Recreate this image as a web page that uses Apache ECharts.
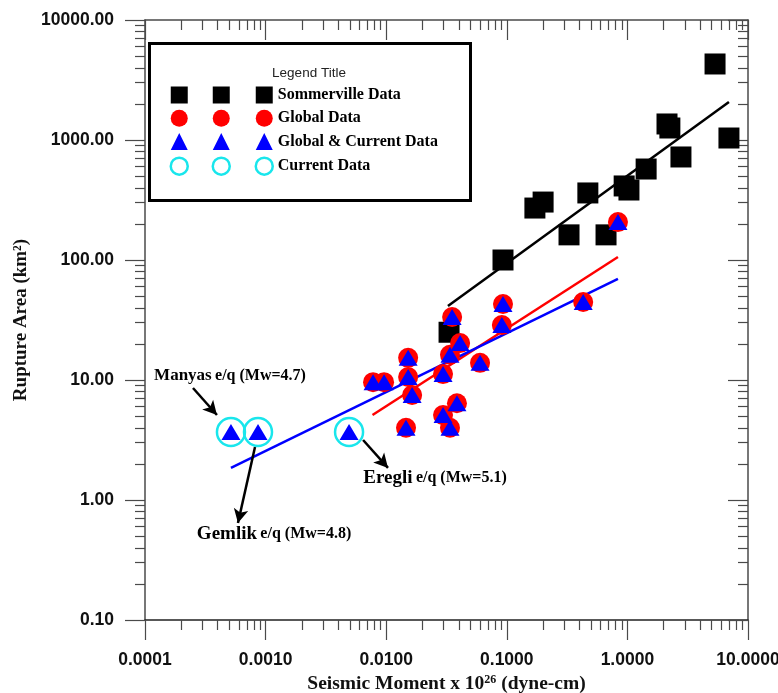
<!DOCTYPE html>
<html><head><meta charset="utf-8">
<script src="https://cdn.jsdelivr.net/npm/echarts@6/dist/echarts.min.js"></script>
<style>html,body{margin:0;padding:0;background:#fff}#c{width:778px;height:693px}</style>
</head><body><div id="c"></div>
<script>
// ---- data ----
const xRange = [0.0001, 10];
const yRange = [0.1, 10000];

const sommervilleX = [5.33, 2.13, 2.25, 6.95, 2.78, 1.43, 0.94, 1.03, 0.47, 0.20, 0.171, 0.328, 0.665, 0.093, 0.0332];
const sommervilleY = [4300, 1360, 1259, 1039, 722, 573, 414, 383, 362, 304, 271, 162, 162, 100, 25];

const globalX = [0.835, 0.093, 0.091, 0.0352, 0.041, 0.0338, 0.0296, 0.060, 0.0152, 0.0152, 0.0164, 0.00778, 0.0096, 0.0386, 0.0296, 0.0338, 0.0146, 0.43];
const globalY = [207, 43, 28.7, 33.5, 20.3, 16.2, 11.2, 13.9, 15.3, 10.6, 7.5, 9.6, 9.6, 6.4, 5.1, 4.0, 4.0, 44.7];

const currentX = [0.000516, 0.000865, 0.00492];
const currentY = [3.69, 3.69, 3.69];

const sommervilleFitX = [0.0325, 6.95];
const sommervilleFitY = [41.4, 2073];
const globalFitX = [0.0077, 0.835];
const globalFitY = [5.11, 106];
const globalCurrentFitX = [0.000516, 0.835];
const globalCurrentFitY = [1.85, 69.5];

const annotNames = ['Manyas', 'Gemlik', 'Eregli'];
const annotMw = ['4.7', '4.8', '5.1'];
const annotX = [0.000507, 0.001175, 0.0254];
const annotY = [10.8, 0.521, 1.525];
const arrowFromX = [0.00025, 0.000817, 0.00643];
const arrowFromY = [8.58, 2.77, 3.16];
const arrowToX = [0.000395, 0.00059, 0.01035];
const arrowToY = [5.11, 0.643, 1.85];

const legendNames = ['Sommerville Data', 'Global Data', 'Global & Current Data', 'Current Data'];
const legendTitle = 'Legend Title';

// ---- build ----
const zip = (xs, ys) => xs.map((x, i) => [x, ys[i]]);
const CYAN = '#19e6ec';
const axisCol = '#4a4a4a';
const serif = 'Liberation Serif';
const sans = 'Liberation Sans';

const legendData = [
  {name: legendNames[0], icon: 'rect'},
  {name: legendNames[1], icon: 'circle'},
  {name: legendNames[2], icon: 'triangle'},
  {name: legendNames[3], icon: 'circle', itemStyle: {color: 'rgba(0,0,0,0)', borderColor: CYAN, borderWidth: 2.5}}
];
function mkLegend(left, withText) {
  return {
    data: legendData, left: left, top: 86.5, orient: 'vertical', padding: 0,
    itemWidth: 17, itemHeight: 17, itemGap: 6.3, selectedMode: false,
    formatter: withText ? (n => n) : (() => ''),
    textStyle: {fontFamily: serif, fontWeight: 'bold', fontSize: 16, color: '#000'}
  };
}

const logAxisCommon = (min, max) => ({
  type: 'log', logBase: 10, min: min, max: max, splitNumber: 5,
  splitLine: {show: false}, minorSplitLine: {show: false},
  axisLine: {show: true, lineStyle: {color: axisCol, width: 1.5}}
});

const annotData = annotNames.map((n, i) => ({
  value: [annotX[i], annotY[i]],
  label: {
    formatter: '{a|' + n + '} {b|e/q (Mw=' + annotMw[i] + ')}',
    rich: {
      a: {fontFamily: serif, fontWeight: 'bold', fontSize: i === 0 ? 17 : 19, color: '#000'},
      b: {fontFamily: serif, fontWeight: 'bold', fontSize: 16, color: '#000'}
    }
  }
}));
const arrowData = annotNames.map((n, i) => [
  {coord: [arrowFromX[i], arrowFromY[i]]},
  {coord: [arrowToX[i], arrowToY[i]]}
]);

const option = {
  animation: false,
  backgroundColor: '#fff',
  grid: {left: 145, right: 30, top: 20, bottom: 73, containLabel: false, outerBoundsMode: 'none'},
  legend: [mkLegend(169.5, false), mkLegend(211.5, false), mkLegend(254.5, true)],
  xAxis: [
    Object.assign(logAxisCommon(xRange[0], xRange[1]), {
      position: 'bottom',
      axisLine: {show: true, lineStyle: {color: '#222', width: 1.5}},
      axisTick: {show: true, length: 20, inside: false, lineStyle: {color: axisCol, width: 1.2}},
      minorTick: {show: true, splitNumber: 9, length: 10, lineStyle: {color: axisCol, width: 1.2}},
      axisLabel: {margin: 31, fontFamily: sans, fontWeight: 'bold', fontSize: 17.5, color: '#111',
        formatter: v => Number(v).toFixed(4)},
      name: 'Seismic Moment x 10{sup|26} (dyne-cm)', nameLocation: 'middle', nameGap: 53,
      nameTextStyle: {fontFamily: serif, fontWeight: 'bold', fontSize: 19.5, color: '#111',
        rich: {sup: {fontFamily: serif, fontWeight: 'bold', fontSize: 12, verticalAlign: 'top', color: '#111'}}}
    }),
    Object.assign(logAxisCommon(xRange[0], xRange[1]), {
      position: 'top',
      axisTick: {show: true, length: 20, inside: true, lineStyle: {color: axisCol, width: 1.2}},
      minorTick: {show: true, splitNumber: 9, length: 10, lineStyle: {color: axisCol, width: 1.2}},
      axisLabel: {show: false}
    })
  ],
  yAxis: [
    Object.assign(logAxisCommon(yRange[0], yRange[1]), {
      position: 'left',
      axisTick: {show: true, length: 20, inside: false, lineStyle: {color: axisCol, width: 1.2}},
      minorTick: {show: true, splitNumber: 9, length: 10, lineStyle: {color: axisCol, width: 1.2}},
      axisLabel: {margin: 31, fontFamily: sans, fontWeight: 'bold', fontSize: 17.5, color: '#111',
        formatter: v => Number(v).toFixed(2)},
      name: 'Rupture Area (km²)', nameLocation: 'middle', nameGap: 107,
      nameTextStyle: {fontFamily: serif, fontWeight: 'bold', fontSize: 19, color: '#111'}
    }),
    Object.assign(logAxisCommon(yRange[0], yRange[1]), {
      position: 'right',
      axisTick: {show: true, length: 20, inside: true, lineStyle: {color: axisCol, width: 1.2}},
      minorTick: {show: true, splitNumber: 9, length: 10, lineStyle: {color: axisCol, width: 1.2}},
      axisLabel: {show: false}
    })
  ],
  graphic: [
    {type: 'rect', left: 148, top: 42, z: 0,
      shape: {width: 321, height: 157}, style: {fill: '#fff', stroke: '#000', lineWidth: 3}},
    {type: 'text', x: 309, y: 73, z: 1,
      style: {text: legendTitle, fontFamily: sans, fontSize: 13.5, fill: '#222', align: 'center', verticalAlign: 'middle'}}
  ],
  series: [
    {name: 'Sommerville fit', type: 'line', data: zip(sommervilleFitX, sommervilleFitY), symbol: 'none',
      lineStyle: {color: '#000', width: 2.5}, z: 2, silent: true},
    {name: 'Global fit', type: 'line', data: zip(globalFitX, globalFitY), symbol: 'none',
      lineStyle: {color: '#ff0000', width: 2.5}, z: 2, silent: true},
    {name: 'Global & Current fit', type: 'line', data: zip(globalCurrentFitX, globalCurrentFitY), symbol: 'none',
      lineStyle: {color: '#0000ff', width: 2.5}, z: 2, silent: true},
    {name: legendNames[0], type: 'scatter', data: zip(sommervilleX, sommervilleY), symbol: 'rect', symbolSize: 21,
      itemStyle: {color: '#000', opacity: 1}, z: 3},
    {name: legendNames[1], type: 'scatter', data: zip(globalX, globalY), symbol: 'circle', symbolSize: 20,
      itemStyle: {color: '#ff0000', opacity: 1}, z: 4},
    {name: legendNames[2], type: 'scatter', data: zip(globalX.concat(currentX), globalY.concat(currentY)),
      symbol: 'triangle', symbolSize: [19, 16], itemStyle: {color: '#0000ff', opacity: 1}, z: 5},
    {name: legendNames[3], type: 'scatter', data: zip(currentX, currentY), symbol: 'circle', symbolSize: 28,
      itemStyle: {color: 'rgba(0,0,0,0)', borderColor: CYAN, borderWidth: 2.5, opacity: 1}, z: 6},
    {name: 'annotations', type: 'scatter', data: annotData, symbolSize: 0, silent: true, z: 7,
      itemStyle: {opacity: 1},
      label: {show: true, position: 'inside', opacity: 1},
      markLine: {silent: true, symbol: ['none', 'arrow'], symbolSize: [11, 14], label: {show: false},
        lineStyle: {color: '#000', width: 2.5, type: 'solid', opacity: 1}, data: arrowData}}
  ]
};
const chart = echarts.init(document.getElementById('c'), null, {renderer: 'canvas'});
chart.setOption(option);
</script>
</body></html>
